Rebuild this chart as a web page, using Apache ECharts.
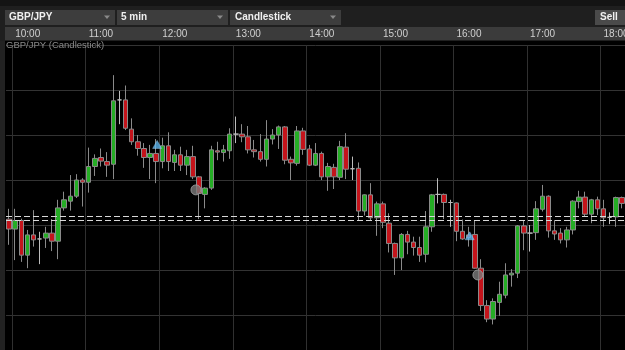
<!DOCTYPE html>
<html>
<head>
<meta charset="utf-8">
<script src="https://cdn.jsdelivr.net/npm/echarts@6/dist/echarts.min.js"></script>
<style>
html,body{margin:0;padding:0;background:#000;}
#chart{width:625px;height:350px;}
</style>
</head>
<body>
<div id="chart"></div>
<script>
// 5-minute bars starting 09:55
var startMinutes = 9 * 60 + 55;
var barCount = 101;
var categories = [];
for (var k = 0; k < barCount; k++) {
  var m = startMinutes + 5 * k;
  var hh = Math.floor(m / 60), mm = m % 60;
  categories.push((hh < 10 ? '0' : '') + hh + ':' + (mm < 10 ? '0' : '') + mm);
}

var opens = [
136.013,135.991,136.010,135.933,135.978,135.969,135.971,135.982,135.964,136.038,
136.053,136.064,136.100,136.095,136.130,136.150,136.141,136.135,136.278,136.278,
136.213,136.185,136.170,136.150,136.159,136.141,136.176,136.139,136.156,136.133,
136.152,136.107,136.068,136.082,136.165,136.161,136.165,136.202,136.202,136.196,
136.167,136.163,136.146,136.191,136.200,136.218,136.146,136.137,136.209,136.169,
136.133,136.159,136.107,136.128,136.106,136.173,136.125,136.126,136.031,136.067,
136.016,136.047,136.004,135.959,135.927,135.979,135.962,135.950,135.935,135.996,
136.068,136.068,136.050,136.049,135.986,135.978,135.979,135.904,135.821,135.791,
135.828,135.844,135.889,135.893,135.998,135.982,135.983,136.035,136.064,135.987,
135.982,135.967,135.989,136.052,136.062,136.024,136.056,136.036,136.017,136.018,
136.061
];
var closes = [
135.991,136.010,135.933,135.978,135.967,135.969,135.982,135.964,136.038,136.056,
136.064,136.100,136.095,136.130,136.148,136.142,136.133,136.276,136.278,136.215,
136.185,136.170,136.150,136.159,136.141,136.176,136.141,136.156,136.133,136.152,
136.107,136.070,136.082,136.167,136.162,136.167,136.202,136.202,136.196,136.167,
136.163,136.146,136.191,136.200,136.218,136.144,136.138,136.209,136.168,136.133,
136.159,136.107,136.130,136.107,136.174,136.124,136.125,136.031,136.067,136.016,
136.047,136.006,135.959,135.927,135.979,135.962,135.950,135.933,135.996,136.067,
136.068,136.050,136.050,135.986,135.969,135.972,135.904,135.821,135.791,135.830,
135.846,135.889,135.893,135.998,135.982,135.982,136.036,136.064,135.987,135.980,
135.967,135.989,136.053,136.062,136.024,136.056,136.036,136.016,136.017,136.061,
136.048
];
var lows = [
135.956,135.922,135.918,135.904,135.952,135.913,135.949,135.942,135.924,136.032,
136.032,136.060,136.041,136.072,136.109,136.130,136.107,136.102,136.224,136.211,
136.178,136.154,136.127,136.102,136.093,136.126,136.120,136.120,136.120,136.111,
136.102,136.013,136.037,136.078,136.144,136.141,136.147,136.182,136.184,136.159,
136.150,136.141,136.130,136.179,136.169,136.135,136.100,136.132,136.156,136.131,
136.131,136.100,136.076,136.080,136.100,136.102,136.100,136.009,136.021,136.011,
135.976,135.993,135.939,135.889,135.900,135.935,135.932,135.918,135.917,135.985,
136.048,136.013,135.996,135.964,135.967,135.952,135.903,135.809,135.784,135.779,
135.798,135.837,135.863,135.882,135.944,135.941,135.967,136.030,135.972,135.967,
135.959,135.950,135.979,136.037,136.018,136.004,136.022,135.996,136.002,135.996,
136.037
];
var highs = [
136.036,136.036,136.014,135.989,136.033,135.985,135.996,136.013,136.056,136.074,
136.111,136.113,136.104,136.172,136.157,136.170,136.162,136.333,136.298,136.310,
136.237,136.200,136.182,136.178,136.191,136.194,136.206,136.167,136.174,136.167,
136.176,136.109,136.084,136.176,136.185,136.178,136.215,136.241,136.224,136.220,
136.189,136.202,136.233,136.213,136.221,136.220,136.152,136.220,136.216,136.178,
136.182,136.163,136.138,136.136,136.187,136.204,136.152,136.139,136.068,136.093,
136.052,136.052,136.026,135.961,135.982,135.987,135.974,135.974,136.031,136.069,
136.104,136.070,136.056,136.050,136.012,135.996,136.010,135.924,135.833,135.837,
135.874,135.915,135.902,136.000,136.011,136.000,136.053,136.089,136.066,136.011,
135.993,135.996,136.055,136.076,136.074,136.058,136.063,136.056,136.028,136.063,
136.063
];
// trade markers [bar index, price]
var entryMarks = [[24, 136.179], [75, 135.976]];
var exitMarks = [[30, 136.078], [76, 135.889]];
// bid / ask lines
var bidPrice = 136.0096;
var askPrice = 136.0171;

var candleData = [];
for (var i = 0; i < opens.length; i++) {
  candleData.push([opens[i], closes[i], lows[i], highs[i]]);
}

var chart = echarts.init(document.getElementById('chart'), null, {renderer: 'canvas'});
var FONT = '"Liberation Sans", Arial, sans-serif';

chart.setOption({
  backgroundColor: '#000',
  animation: false,
  title: {
    text: 'GBP/JPY (Candlestick)',
    left: 6, top: 40, padding: 0,
    textStyle: {color: '#8a8a8a', fontSize: 9.5, fontWeight: 'normal', fontFamily: FONT}
  },
  graphic: [
    {type: 'rect', z: -10, shape: {x: 0, y: 0, width: 625, height: 41}, style: {fill: '#1f1f1f'}},
    {type: 'rect', z: -10, shape: {x: 0, y: 0, width: 625, height: 6}, style: {fill: '#141414'}},
    {type: 'rect', z: -10, shape: {x: 0, y: 41, width: 5, height: 309}, style: {fill: '#222'}},
    {type: 'rect', z: -9, shape: {x: 5, y: 27, width: 620, height: 13}, style: {fill: '#3b3b3b'}},
    {type: 'rect', z: -9, shape: {x: 5, y: 10, width: 110, height: 15}, style: {fill: '#3d3d3d'}},
    {type: 'rect', z: -9, shape: {x: 117, y: 10, width: 111, height: 15}, style: {fill: '#3d3d3d'}},
    {type: 'rect', z: -9, shape: {x: 230, y: 10, width: 111, height: 15}, style: {fill: '#3d3d3d'}},
    {type: 'rect', z: -9, shape: {x: 595, y: 10, width: 30, height: 15}, style: {fill: '#4a4a4a'}},
    {type: 'text', z: 5, style: {text: 'GBP/JPY', x: 9, y: 17.5, verticalAlign: 'middle', fill: '#f0f0f0', font: 'bold 10px ' + FONT}},
    {type: 'text', z: 5, style: {text: '5 min', x: 121, y: 17.5, verticalAlign: 'middle', fill: '#f0f0f0', font: 'bold 10px ' + FONT}},
    {type: 'text', z: 5, style: {text: 'Candlestick', x: 235, y: 17.5, verticalAlign: 'middle', fill: '#f0f0f0', font: 'bold 10px ' + FONT}},
    {type: 'text', z: 5, style: {text: 'Sell', x: 600, y: 17.5, verticalAlign: 'middle', fill: '#f0f0f0', font: 'bold 10px ' + FONT}},
    {type: 'polygon', z: 5, shape: {points: [[104, 15.5], [110, 15.5], [107, 19]]}, style: {fill: '#8a8a8a'}},
    {type: 'polygon', z: 5, shape: {points: [[217, 15.5], [223, 15.5], [220, 19]]}, style: {fill: '#8a8a8a'}},
    {type: 'polygon', z: 5, shape: {points: [[330, 15.5], [336, 15.5], [333, 19]]}, style: {fill: '#8a8a8a'}}
  ],
  grid: {left: 6, right: 0, top: 45, bottom: -10, containLabel: false, outerBoundsMode: 'none'},
  xAxis: {
    type: 'category',
    data: categories,
    position: 'top',
    boundaryGap: true,
    axisLine: {show: false},
    axisTick: {show: false},
    axisLabel: {
      show: true,
      interval: function (idx) { return idx % 12 === 1; },
      color: '#d0d0d0', fontSize: 10, fontFamily: FONT,
      align: 'left', margin: 6
    },
    splitLine: {
      show: true,
      interval: function (idx) { return idx % 12 === 1; },
      lineStyle: {color: '#303030', width: 1}
    }
  },
  yAxis: {
    type: 'value',
    min: 135.7, max: 136.4, interval: 0.1,
    axisLine: {show: false},
    axisTick: {show: false},
    axisLabel: {show: false},
    splitLine: {show: true, lineStyle: {color: '#333', width: 1}}
  },
  series: [
    {
      type: 'candlestick',
      data: candleData,
      barWidth: 5,
      itemStyle: {
        color: '#25ad25',
        color0: '#c4141b',
        borderColor: '#8a8a8a',
        borderColor0: '#8a8a8a',
        borderColorDoji: '#bcbcbc',
        borderWidth: 1
      },
      markLine: {
        silent: true,
        symbol: ['none', 'none'],
        label: {show: false},
        lineStyle: {color: '#d8d8d8', type: [6, 3], width: 1},
        data: [{yAxis: askPrice}, {yAxis: bidPrice}]
      }
    },
    {
      type: 'scatter',
      data: entryMarks,
      symbol: 'triangle',
      symbolSize: [9, 8],
      symbolOffset: [1, 0],
      itemStyle: {color: '#5db5ee', borderColor: '#9fd3f5', borderWidth: 0.5},
      z: 5
    },
    {
      type: 'scatter',
      data: exitMarks,
      symbol: 'circle',
      symbolSize: 10,
      symbolOffset: [3, 0],
      itemStyle: {color: '#7a7a7a', borderColor: '#a0a0a0', borderWidth: 1},
      z: 5
    }
  ]
});
</script>
</body>
</html>
